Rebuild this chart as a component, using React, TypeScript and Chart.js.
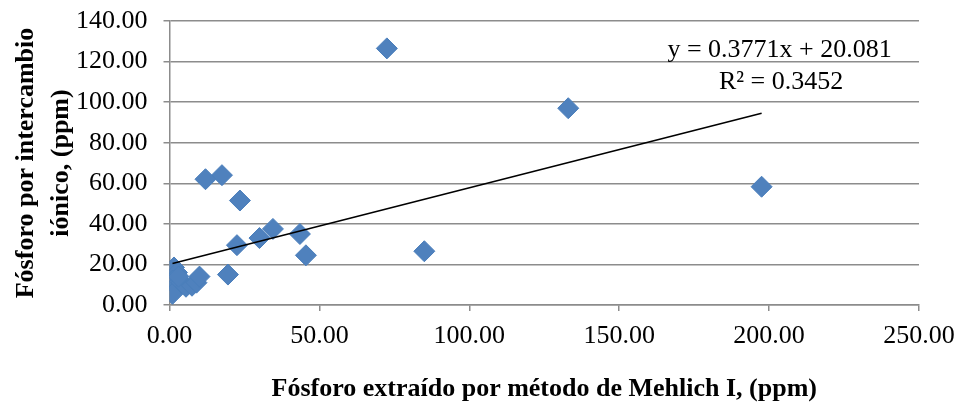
import React, { useEffect, useRef } from "react";
import { Chart, registerables } from "chart.js";

Chart.register(...registerables);

const mehlichX: number[] = [72.5, 133, 197.5, 85, 45.5, 43.5, 34.5, 30, 22.5, 23.5, 17.5, 12, 19.5, 1.5, 2.5, 1, 2, 1, 4, 5.5, 7.5, 9, 10, 3];
const intercambioY: number[] = [126.5, 97, 58.3, 26.5, 24.5, 35, 37.5, 33, 29.5, 51.5, 64, 62, 15, 18.5, 16, 12, 9.5, 5.5, 11, 9, 9.5, 11, 14, 14];

const slope = 0.3771;
const intercept = 20.081;
const equationLines: string[] = ["y = 0.3771x + 20.081", "R² = 0.3452"];
const xTitle = "Fósforo extraído por método de Mehlich I, (ppm)";
const yTitle: string[] = ["Fósforo por intercambio", "iónico, (ppm)"];

const FONT = "'Liberation Serif', 'Times New Roman', serif";

export default function App() {
  const ref = useRef<HTMLCanvasElement | null>(null);
  useEffect(() => {
    document.body.style.margin = "0";
    const ctx = ref.current!;
    const pts = mehlichX.map((x, i) => ({ x, y: intercambioY[i] }));
    const minX = Math.min(...mehlichX);
    const maxX = Math.max(...mehlichX);
    const trend = [
      { x: minX, y: slope * minX + intercept },
      { x: maxX, y: slope * maxX + intercept },
    ];
    const labelPlugin = {
      id: "eqLabel",
      afterDatasetsDraw(chart: any) {
        const c = chart.ctx;
        const xs = chart.scales.x;
        const ys = chart.scales.y;
        c.save();
        c.fillStyle = "#000";
        c.font = "26px " + FONT;
        c.textAlign = "center";
        c.textBaseline = "middle";
        c.fillText(equationLines[0], xs.getPixelForValue(203.5), ys.getPixelForValue(125.6));
        c.fillText(equationLines[1], xs.getPixelForValue(204), ys.getPixelForValue(109.6));
        c.restore();
      },
    };
    const chart = new Chart(ctx, {
      type: "scatter",
      data: {
        datasets: [
          {
            data: pts,
            pointStyle: "rectRot",
            pointRadius: 10.5,
            pointHoverRadius: 10.5,
            backgroundColor: "#4F81BD",
            borderColor: "#4A7EBB",
            borderWidth: 1,
            order: 1,
          },
          {
            type: "line",
            data: trend,
            borderColor: "#000",
            borderWidth: 1.6,
            pointRadius: 0,
            showLine: true,
            fill: false,
            order: 0,
          } as any,
        ],
      },
      options: {
        animation: false,
        responsive: false,
        layout: { padding: { left: 0, right: 45, top: 21, bottom: 0 } },
        plugins: { legend: { display: false }, tooltip: { enabled: false } },
        scales: {
          x: {
            type: "linear",
            min: 0,
            max: 250,
            afterFit: (s: any) => {
              s.height = 102;
              s.paddingLeft = 0;
              s.paddingRight = 0;
            },
            border: { color: "#8c8c8c", width: 1.5 },
            grid: { display: true, drawOnChartArea: false, drawTicks: true, tickLength: 6, color: "#8c8c8c", lineWidth: 1.5 },
            ticks: {
              stepSize: 50,
              color: "#000",
              padding: 10,
              font: { family: FONT, size: 26 },
              callback: (v: any) => Number(v).toFixed(2),
            },
            title: {
              display: true,
              text: xTitle,
              color: "#000",
              padding: { top: 0, bottom: 2.5 },
              font: { family: FONT, size: 26, weight: "bold" },
            },
          },
          y: {
            min: 0,
            max: 140,
            afterFit: (s: any) => {
              s.width = 169.5;
              s.paddingTop = 0;
              s.paddingBottom = 0;
            },
            border: { color: "#8c8c8c", width: 1.5 },
            grid: { color: "#8c8c8c", lineWidth: 1.5, tickLength: 6 },
            ticks: {
              stepSize: 20,
              color: "#000",
              padding: 16,
              font: { family: FONT, size: 26 },
              callback: (v: any) => Number(v).toFixed(2),
            },
            title: {
              display: true,
              text: yTitle,
              color: "#000",
              padding: { top: 9, bottom: 0 },
              font: { family: FONT, size: 26, weight: "bold", lineHeight: 1.35 },
            },
          },
        },
      },
      plugins: [labelPlugin],
    });
    return () => chart.destroy();
  }, []);
  return (
    <div style={{ width: 964, height: 407 }}>
      <canvas ref={ref} width={964} height={407} style={{ width: 964, height: 407 }} />
    </div>
  );
}
